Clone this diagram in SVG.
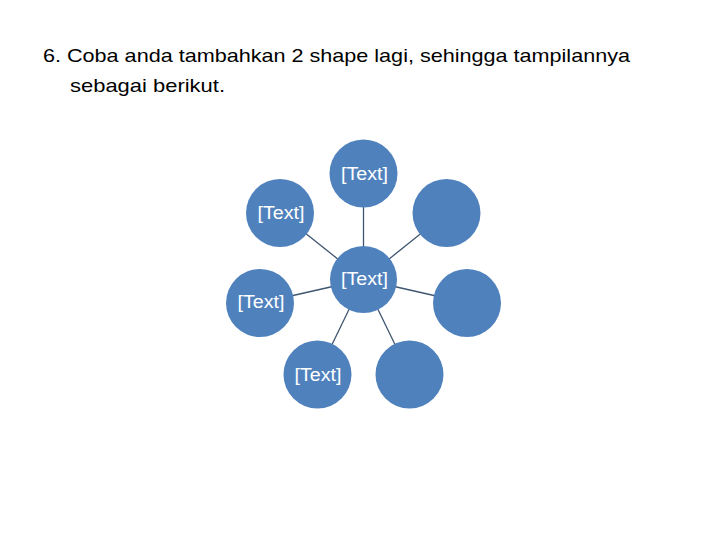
<svg xmlns="http://www.w3.org/2000/svg" width="720" height="540" viewBox="0 0 720 540">
<style>
.title{font-family:"Liberation Sans",Arial,sans-serif;font-size:19px;fill:#000}
.node circle{fill:#4F81BD}
.node text{font-family:"Liberation Sans",Arial,sans-serif;font-size:18px;fill:#fff;text-anchor:middle}
.conn line{stroke:#3F5670;stroke-width:1.3}
</style>
<rect width="720" height="540" fill="#fff"/>
<text class="title" x="43" y="62" textLength="587" lengthAdjust="spacingAndGlyphs">6. Coba anda tambahkan 2 shape lagi, sehingga tampilannya</text>
<text class="title" x="70" y="92" textLength="155" lengthAdjust="spacingAndGlyphs">sebagai berikut.</text>
<g id="connectors" class="conn">
<line x1="363.5" y1="279.5" x2="363.5" y2="173.5"/>
<line x1="363.5" y1="279.5" x2="280" y2="213"/>
<line x1="363.5" y1="279.5" x2="446.5" y2="213"/>
<line x1="363.5" y1="279.5" x2="260" y2="303"/>
<line x1="363.5" y1="279.5" x2="467" y2="303"/>
<line x1="363.5" y1="279.5" x2="317.5" y2="374.5"/>
<line x1="363.5" y1="279.5" x2="409.5" y2="374.5"/>
</g>
<g id="n-top" class="node"><circle cx="363.5" cy="173.5" r="34"/><text x="364.5" y="180" textLength="47" lengthAdjust="spacingAndGlyphs">[Text]</text></g>
<g id="n-ul" class="node"><circle cx="280" cy="213" r="34"/><text x="281" y="219" textLength="47" lengthAdjust="spacingAndGlyphs">[Text]</text></g>
<g id="n-ur" class="node"><circle cx="446.5" cy="213" r="34"/></g>
<g id="n-left" class="node"><circle cx="260" cy="303" r="34"/><text x="261" y="308" textLength="47" lengthAdjust="spacingAndGlyphs">[Text]</text></g>
<g id="n-right" class="node"><circle cx="467" cy="303" r="34"/></g>
<g id="n-bl" class="node"><circle cx="317.5" cy="374.5" r="34"/><text x="318" y="381" textLength="47" lengthAdjust="spacingAndGlyphs">[Text]</text></g>
<g id="n-br" class="node"><circle cx="409.5" cy="374.5" r="34"/></g>
<g id="n-center" class="node"><circle cx="363.5" cy="279.5" r="33.5"/><text x="364.5" y="285" textLength="47" lengthAdjust="spacingAndGlyphs">[Text]</text></g>
</svg>
